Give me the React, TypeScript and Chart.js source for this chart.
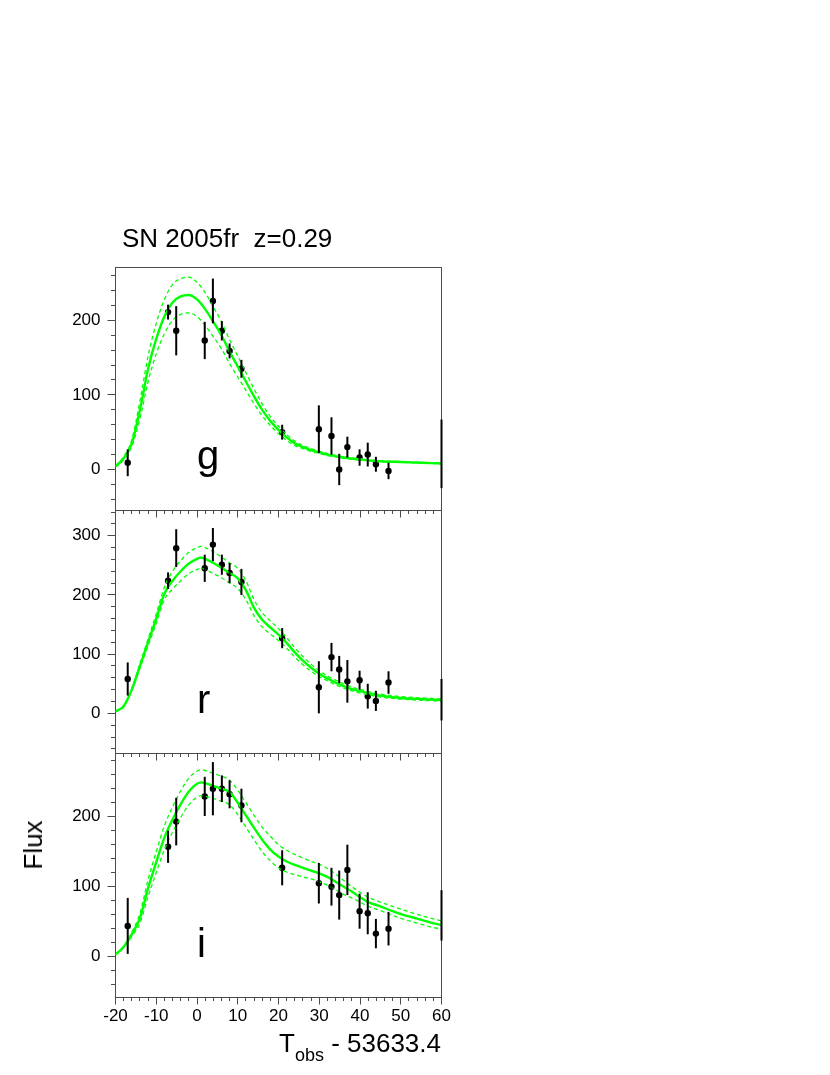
import React, { useEffect, useRef } from "react";
import { Chart, registerables } from "chart.js";

Chart.register(...registerables);

const FONT = "'Liberation Sans', Arial, Helvetica, sans-serif";
const GREEN = "rgb(0,255,0)";

// ---- shared axis data ----
const xTicks = [-20, -10, 0, 10, 20, 30, 40, 50, 60];
const xMin = -20;
const xMax = 60;
const xMinorStep = 2;
const yMinorStep = 20;

// observation epochs (T_obs - 53633.4)
const obsT = [-17.0, -7.1, -5.1, 1.9, 3.9, 6.1, 8.0, 10.9, 20.9, 29.9, 33.0, 34.9, 36.9, 39.9, 41.9, 43.9, 47.0, 60.0];

// ---- g band ----
const gFlux = [9, 211, 186, 173, 226, 186, 159, 135, 50, 54, 45, 0, 30, 16, 20, 7, -2, 21];
const gErr = [18, 10, 33, 25, 30, 13, 10, 12, 10, 32, 25, 21, 14, 11, 16, 10, 11, 46];
const gModelT = [-20, -18, -16, -14, -12, -10, -8, -6, -4, -2, 0, 2, 4, 6, 8, 10, 12, 14, 16, 18, 20, 22, 24, 26, 28, 30, 32, 34, 36, 38, 40, 45, 50, 55, 60];
const gModel = [4, 15, 35, 80, 135, 175, 205, 224, 232, 234, 228, 215, 198, 180, 158, 138, 118, 98, 80, 65, 53, 43, 35, 30, 26, 23, 20, 18, 16, 14.5, 13.5, 11, 10, 9, 8];
const gUpper = [5, 17, 40, 92, 152, 196, 228, 248, 256, 258, 251, 237, 218, 198, 174, 152, 130, 108, 88, 71, 58, 47, 38, 32, 28, 24.5, 21.5, 19, 17, 15.5, 14.2, 11.6, 10.4, 9.4, 8.4];
const gLower = [3.5, 13, 31, 68, 118, 155, 182, 200, 208, 210, 205, 193, 178, 162, 142, 124, 106, 88, 72, 59, 48, 39, 32, 28, 24, 21.5, 18.5, 17, 15, 13.5, 12.8, 10.4, 9.6, 8.6, 7.6];
const gYTicks = [0, 100, 200];

// ---- r band ----
const rFlux = [58, 224, 279, 245, 285, 251, 237, 222, 127, 44, 95, 74, 54, 56, 29, 21, 52, 23];
const rErr = [28, 14, 32, 23, 28, 17, 17, 22, 17, 44, 24, 23, 36, 16, 21, 17, 19, 35];
const rModelT = [-20, -18, -16, -14, -12, -10, -8, -6, -4, -2, 0, 1, 2, 4, 6, 8, 10, 12, 14, 16, 18, 20, 22, 24, 26, 28, 30, 32, 34, 36, 38, 40, 45, 50, 55, 60];
const rModel = [3, 12, 40, 80, 120, 160, 202, 224, 240, 253, 261, 263, 261, 254, 246, 237, 228, 208, 178, 158, 145, 133, 119, 103, 89, 77, 67, 59, 52, 46, 41, 37.5, 30, 26, 24, 22.5];
const rUpper = [3.2, 13, 42, 84, 126, 168, 213, 240, 258, 272, 280, 282, 280, 273, 264, 254, 245, 224, 192, 170, 156, 143, 128, 111, 96, 83, 72, 63, 56, 50, 44.5, 40.5, 32.5, 28.3, 26, 24.5];
const rLower = [2.8, 11, 38, 76, 114, 152, 192, 210, 224, 236, 243, 245, 243, 236, 229, 220, 211, 192, 165, 146, 134, 123, 110, 95, 82, 71, 62, 55, 48, 42.5, 38, 34.5, 27.5, 24, 22, 20.5];
const rYTicks = [0, 100, 200, 300];

// ---- i band ----
const iFlux = [44, 157, 193, 229, 240, 240, 232, 216, 127, 105, 100, 88, 124, 65, 62, 33, 40, 59];
const iErr = [40, 23, 34, 28, 38, 19, 20, 24, 25, 29, 27, 35, 36, 25, 30, 21, 24, 36];
const iModelT = [-20, -18, -16, -14, -12, -10, -8, -6, -4, -2, 0, 1, 2, 4, 6, 8, 10, 12, 14, 16, 18, 20, 22, 24, 26, 28, 30, 32, 34, 36, 38, 40, 42, 45, 48, 51, 54, 57, 60];
const iModel = [3, 14, 32, 55, 98, 135, 170, 196, 218, 236, 247, 249, 248, 244, 240, 235, 220, 202, 184, 167, 153, 143, 136, 131, 127, 123, 119, 114, 107, 100, 93, 85, 78, 72, 65, 59, 54.5, 49.5, 45];
const iUpper = [3.2, 15, 35, 62, 110, 150, 187, 214, 237, 255, 265, 267, 266, 262, 258, 252, 238, 220, 202, 185, 172, 160, 152, 146, 141, 136, 132, 126, 118, 109, 100, 92, 85, 78, 72, 66, 60.5, 55.5, 51];
const iLower = [2.8, 13, 29, 48, 86, 120, 153, 178, 199, 217, 228, 230, 229, 226, 222, 217, 203, 185, 167, 150, 137, 127, 121, 117, 114, 111, 107, 102, 96, 89, 84, 78, 72, 66, 59, 53, 48, 43, 39];
const iYTicks = [0, 100, 200];

type Panel = {
  band: string;
  flux: number[];
  err: number[];
  modelT: number[];
  model: number[];
  upper: number[];
  lower: number[];
  yTicks: number[];
  yMin: number;
  yMax: number;
  top: number;
  bottom: number;
  showX: boolean;
};

const PANELS: Panel[] = [
  { band: "g", flux: gFlux, err: gErr, modelT: gModelT, model: gModel, upper: gUpper, lower: gLower, yTicks: gYTicks, yMin: -55, yMax: 271.5, top: 267, bottom: 510.5, showX: false },
  { band: "r", flux: rFlux, err: rErr, modelT: rModelT, model: rModel, upper: rUpper, lower: rLower, yTicks: rYTicks, yMin: -67, yMax: 342.6, top: 510.5, bottom: 753, showX: false },
  { band: "i", flux: iFlux, err: iErr, modelT: iModelT, model: iModel, upper: iUpper, lower: iLower, yTicks: iYTicks, yMin: -57.6, yMax: 291, top: 753, bottom: 997, showX: true },
];

const W = 830;
const H = 1075;
const LEFT = 115.5;
const RIGHT = 441.5;
const XBOX = 40;

function PanelChart({ p }: { p: Panel }) {
  const ref = useRef<HTMLCanvasElement | null>(null);
  useEffect(() => {
    if (!ref.current) return;
    const crisp = (v: number) => Math.floor(v) + 0.5;

    const framePlugin = {
      id: "frame" + p.band,
      beforeDatasetsDraw(chart: any) {
        const ctx = chart.ctx;
        const a = chart.chartArea;
        const xs = chart.scales.x;
        const ys = chart.scales.y;
        const l = crisp(a.left), r = crisp(a.right), t = crisp(a.top), b = crisp(a.bottom);
        ctx.save();
        ctx.strokeStyle = "#4a4a4a";
        ctx.lineWidth = 1;
        ctx.strokeRect(l, t, r - l, b - t);
        ctx.beginPath();
        // y ticks (outward, left)
        for (let v = Math.ceil(p.yMin / yMinorStep) * yMinorStep; v <= p.yMax; v += yMinorStep) {
          const y = crisp(ys.getPixelForValue(v));
          const major = p.yTicks.includes(v);
          ctx.moveTo(l, y);
          ctx.lineTo(l - (major ? 8 : 4.5), y);
        }
        // x ticks (outward, below)
        for (let v = xMin; v <= xMax; v += xMinorStep) {
          const x = crisp(xs.getPixelForValue(v));
          const major = xTicks.includes(v);
          ctx.moveTo(x, b);
          ctx.lineTo(x, b + (major ? 7 : 3.5));
        }
        ctx.stroke();
        ctx.restore();
      },
      afterDatasetsDraw(chart: any) {
        const ctx = chart.ctx;
        const xs = chart.scales.x;
        const ys = chart.scales.y;
        ctx.save();
        ctx.strokeStyle = "#000";
        ctx.lineWidth = 2;
        obsT.forEach((t, i) => {
          const x = xs.getPixelForValue(t);
          ctx.beginPath();
          ctx.moveTo(x, ys.getPixelForValue(p.flux[i] - p.err[i]));
          ctx.lineTo(x, ys.getPixelForValue(p.flux[i] + p.err[i]));
          ctx.stroke();
        });
        // band label
        ctx.fillStyle = "#000";
        ctx.font = `40px ${FONT}`;
        ctx.textAlign = "left";
        ctx.textBaseline = "alphabetic";
        ctx.fillText(p.band, xs.getPixelForValue(0), ys.getPixelForValue(0));
        ctx.restore();
      },
    };

    const curve = (vals: number[], width: number, dash: number[]) => ({
      data: p.modelT.map((t, i) => ({ x: t, y: vals[i] })),
      borderColor: GREEN,
      backgroundColor: GREEN,
      borderWidth: width,
      borderDash: dash,
      pointRadius: 0,
      fill: false,
      cubicInterpolationMode: "monotone",
    });

    const chart = new Chart(ref.current, {
      type: "line",
      data: {
        datasets: [
          curve(p.upper, 1.3, [4, 3]),
          curve(p.lower, 1.3, [4, 3]),
          curve(p.model, 2.4, []),
          {
            data: obsT.map((t, i) => ({ x: t, y: p.flux[i] })),
            showLine: false,
            pointRadius: obsT.map((t, i) => (i === obsT.length - 1 ? 0 : 3.2)),
            pointBackgroundColor: "#000",
            pointBorderColor: "#000",
            pointBorderWidth: 0,
          },
        ] as any,
      },
      options: {
        animation: false,
        responsive: false,
        maintainAspectRatio: false,
        events: [],
        layout: {
          padding: { left: 0, right: W - RIGHT, top: p.top, bottom: H - p.bottom - XBOX },
        },
        plugins: {
          legend: { display: false },
          tooltip: { enabled: false },
          title: { display: false },
        },
        scales: {
          x: {
            type: "linear",
            min: xMin,
            max: xMax,
            grid: { display: false, drawTicks: true, tickLength: 8 },
            border: { display: false },
            ticks: { display: p.showX, color: "#000", font: { family: FONT, size: 17 }, padding: 1, maxRotation: 0 },
            afterBuildTicks: (s: any) => {
              s.ticks = xTicks.map((v) => ({ value: v }));
            },
            afterFit: (s: any) => {
              s.height = XBOX;
            },
          },
          y: {
            type: "linear",
            min: p.yMin,
            max: p.yMax,
            grid: { display: false, drawTicks: true, tickLength: 8 },
            border: { display: false },
            ticks: { color: "#000", font: { family: FONT, size: 17 }, padding: 7 },
            afterBuildTicks: (s: any) => {
              s.ticks = p.yTicks.map((v) => ({ value: v }));
            },
            afterFit: (s: any) => {
              s.width = LEFT;
            },
          },
        },
      } as any,
      plugins: [framePlugin],
    });
    return () => chart.destroy();
  }, [p]);
  return (
    <canvas
      ref={ref}
      width={W}
      height={H}
      style={{ position: "absolute", left: 0, top: 0, width: W, height: H }}
    />
  );
}

export default function App() {
  return (
    <div style={{ position: "absolute", left: 0, top: 0, width: W, height: H, background: "#fff", fontFamily: FONT, color: "#000" }}>
      {PANELS.map((p) => (
        <PanelChart key={p.band} p={p} />
      ))}
      <div style={{ position: "absolute", left: 122, top: 225, fontSize: 26, lineHeight: "26px", whiteSpace: "pre" }}>
        SN 2005fr  z=0.29
      </div>
      <div
        style={{
          position: "absolute",
          left: 33,
          top: 845,
          fontSize: 26,
          lineHeight: "26px",
          whiteSpace: "pre",
          transform: "translate(-50%, -50%) rotate(-90deg)",
        }}
      >
        Flux
      </div>
      <div style={{ position: "absolute", right: W - 441, top: 1030, fontSize: 26, lineHeight: "26px", whiteSpace: "pre" }}>
        T<span style={{ fontSize: 18, lineHeight: "18px", position: "relative", top: 9 }}>obs</span> - 53633.4
      </div>
    </div>
  );
}
